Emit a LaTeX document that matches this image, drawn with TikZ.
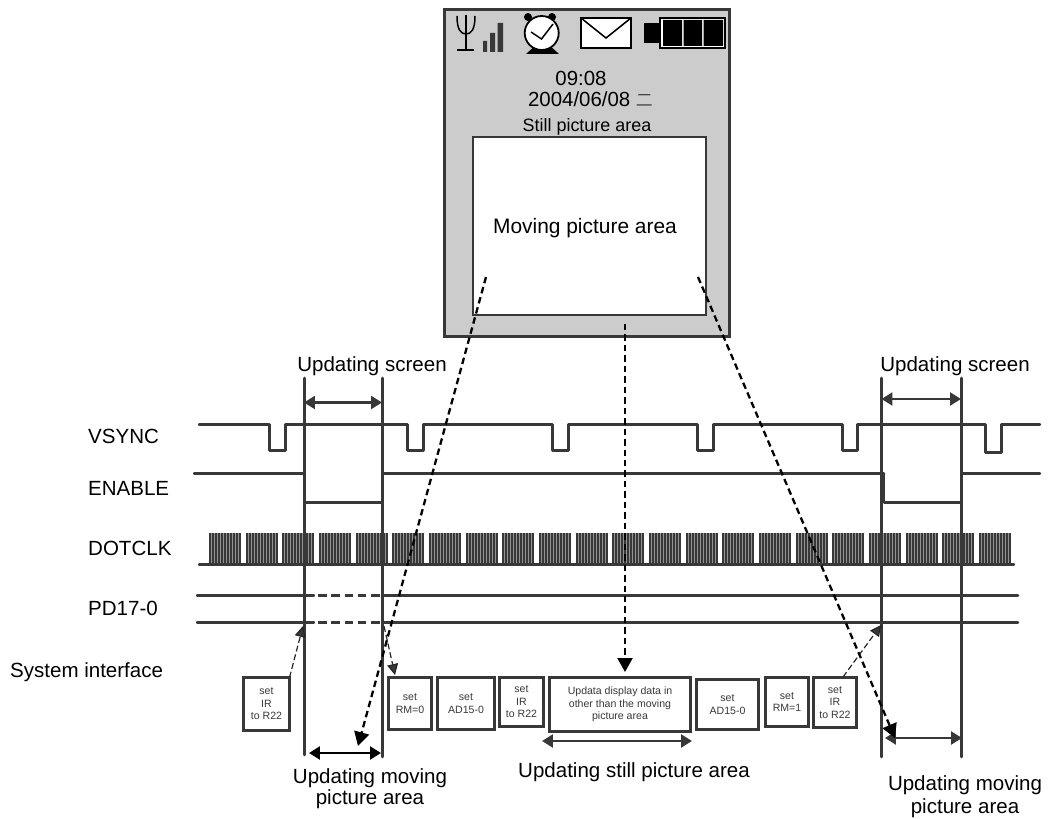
\documentclass[tikz,border=0pt]{standalone}
\usepackage{fontspec}
\setmainfont{Liberation Sans}
\newfontfamily\cjk{Noto Sans CJK SC Light}
\usetikzlibrary{arrows.meta}
\definecolor{ink}{HTML}{383838}
\definecolor{panel}{HTML}{CCCCCC}
\newcommand{\fsz}[1]{\fontsize{#1}{#1}\selectfont}
\tikzset{
  sig/.style={draw=ink,line width=2.4pt,line cap=round,line join=round},
  guide/.style={draw=ink,line width=2.6pt,line cap=round},
  gap/.style={draw=ink,line width=2.4pt,dash pattern=on 8.7pt off 4.6pt},
  lab/.style={font=\fsz{20.6},inner sep=0pt,align=center},
  siglab/.style={font=\fsz{20.6},inner sep=0pt,anchor=west},
  regbox/.style={draw=ink,line width=2.5pt,fill=white,inner sep=0pt,outer sep=0pt,font=\fsz{10.6},align=center,text=ink},
  thinptr/.style={draw=black!85,line width=1.2pt,dash pattern=on 6pt off 3pt,-{Triangle[length=11pt,width=11pt,fill=ink]}},
  mapptr/.style={draw=black,line width=2.3pt,dash pattern=on 6.5pt off 4pt,-{Triangle[length=14pt,width=15pt,fill=black]}},
  span/.style={draw=ink,line width=2.4pt,{Triangle[length=11pt,width=13pt]}-{Triangle[length=11pt,width=13pt]}},
}
\newcommand{\regnode}[6]{\node[regbox,minimum width=#4bp-#2bp,minimum height=#5bp-#3bp,anchor=north west] (#1) at (#2,#3) {#6};}
\begin{document}
\begin{tikzpicture}[x=1bp,y=-1bp]
\useasboundingbox (0,0) rectangle (1048,819);
% phone
\node[draw=ink,line width=2.1pt,fill=panel,minimum width=285bp,minimum height=327bp,anchor=north west,inner sep=0pt,outer sep=0pt] (phone) at (444.5,9.5) {};
\node[draw=ink,line width=2.2pt,fill=white,minimum width=233bp,minimum height=178bp,anchor=north west,inner sep=0pt,outer sep=0pt] (movarea) at (473,137) {};
\node[font=\fsz{21},inner sep=0pt] (movtxt) at (585,228) {Moving picture area};
\node[font=\fsz{20.5},inner sep=0pt] (clock) at (581,78) {09:08};
\node[font=\fsz{20.5},inner sep=0pt] (date) at (590.5,99) {2004/06/08 {\cjk\fontsize{17}{17}\selectfont 二}};
\node[font=\fsz{18},inner sep=0pt] (still) at (587,127) {Still picture area};
% antenna
\draw[black,line width=1.5pt] (457,16) .. controls (457,30) and (461,34) .. (466,34) .. controls (471,34) and (475,30) .. (475,16);
\draw[black,line width=1.5pt] (466,15) -- (466,50) (457,50) -- (474,50);
\fill[ink] (483,41) rectangle (487,52) (490,33) rectangle (495,52) (497.5,23) rectangle (503,52);
% alarm clock
\fill[black] (528,17) circle (4) (552,17) circle (4);
\fill[black] (537,44) -- (548,44) -- (559,54) -- (526,54) -- cycle;
\draw[black,line width=1.8pt,fill=white] (541.7,33) circle (17);
\draw[black,line width=1.5pt] (531,32) -- (541.5,39) -- (553,24);
% envelope
\draw[black,line width=1.8pt,fill=white] (581,18) rectangle (631,48);
\draw[black,line width=1.5pt] (581,18) -- (606,38) -- (631,18);
% battery
\fill[black] (644,23) rectangle (660,43.5);
\draw[black,line width=1.6pt,fill=white] (660,18) rectangle (725,48);
\fill[black] (663,20) rectangle (682,46) (683.5,20) rectangle (702,46) (703.5,20) rectangle (723,46);
% signal labels
\node[siglab] (lv) at (88,436) {VSYNC};
\node[siglab] (le) at (88,488) {ENABLE};
\node[siglab] (ld) at (88,548) {DOTCLK};
\node[siglab] (lp) at (88,608) {PD17-0};
\node[siglab] (ls) at (10,672) {System interface};
% VSYNC
\draw[sig] (199,424.5) -- (269.5,424.5) -- (269.5,450.5) -- (285.5,450.5) -- (285.5,424.5)
  -- (407.5,424.5) -- (407.5,450.5) -- (423.5,450.5) -- (423.5,424.5)
  -- (552.5,424.5) -- (552.5,450.5) -- (568.5,450.5) -- (568.5,424.5)
  -- (697.5,424.5) -- (697.5,450.5) -- (713.5,450.5) -- (713.5,424.5)
  -- (842.5,424.5) -- (842.5,450.5) -- (857.5,450.5) -- (857.5,424.5)
  -- (985.5,424.5) -- (985.5,452.5) -- (1001.5,452.5) -- (1001.5,424.5) -- (1040,424.5);
% ENABLE
\draw[sig] (194,473.5) -- (303,473.5) (304.5,502.5) -- (382.5,502.5) (382.5,473.5) -- (884,473.5)
  (884,473.5) -- (884,502.5) -- (961.5,502.5) (961.5,473.5) -- (1040,473.5);
% DOTCLK
\foreach \g in {0,...,21}{
  \pgfmathsetmacro{\gx}{round(209+36.667*\g)}
  \fill[ink!55] (\gx,533) rectangle ++(32,31);
  \foreach \b in {0,...,10}{
    \fill[ink] ({\gx+\b*3+0.1},533) rectangle ++(1.8,31);
  }
}
\draw[sig] (199,564.5) -- (1014,564.5);
% PD17-0
\draw[sig] (197,595.5) -- (314,595.5) (382,595.5) -- (1018,595.5);
\draw[sig] (197,622.5) -- (314,622.5) (382,622.5) -- (1018,622.5);
\foreach \yy in {595.5,622.5}{
  \draw[gap] (318,\yy) -- (382,\yy);
  \draw[gap] (884,\yy) -- (961,\yy);
}
% guides
\coordinate (g1t) at (304.5,378); \coordinate (g1b) at (304.5,755);
\coordinate (g2t) at (382.5,378); \coordinate (g2b) at (382.5,757);
\coordinate (g3t) at (881.5,378); \coordinate (g3b) at (881.5,757);
\coordinate (g4t) at (961.5,378); \coordinate (g4b) at (961.5,757);
\draw[guide] (g1t) -- (g1b);
\draw[guide] (g2t) -- (g2b);
\draw[guide] (g3t) -- (g3b);
\draw[guide] (g4t) -- (g4b);
% register boxes
\regnode{b1}{243.5}{677.5}{289.5}{730.5}{set\\[2pt]IR\\[2pt]to R22}
\regnode{b2}{388.5}{677.5}{431.5}{729.5}{set\\[2pt]RM=0}
\regnode{b3}{437.5}{677.5}{494.5}{729.5}{set\\[2pt]AD15-0}
\regnode{b4}{499.5}{677.5}{543.5}{726.5}{set\\[2pt]IR\\[2pt]to R22}
\regnode{b5}{549.5}{677.5}{690.5}{731.5}{Updata display data in\\[2pt]other than the moving\\[2pt]picture area}
\regnode{b6}{696.5}{679.5}{758.5}{729.5}{set\\[2pt]AD15-0}
\regnode{b7}{765.5}{677.5}{808.5}{726.5}{set\\[2pt]RM=1}
\regnode{b8}{813.5}{677.5}{856.5}{727.5}{set\\[2pt]IR\\[2pt]to R22}
% span arrows
\coordinate (s1a) at (304,402.5); \coordinate (s1b) at (382,402.5);
\coordinate (s2a) at (881.5,399); \coordinate (s2b) at (961,399);
\coordinate (s3a) at (309,753); \coordinate (s3b) at (381,753);
\coordinate (s4a) at (542,741); \coordinate (s4b) at (692,741);
\coordinate (s5a) at (885,738); \coordinate (s5b) at (962,738);
\draw[span] (s1a) -- (s1b);
\draw[span] (s2a) -- (s2b);
\draw[span,black] (s3a) -- (s3b);
\draw[span] (s4a) -- (s4b);
\draw[span] (s5a) -- (s5b);
% thin pointers
\coordinate (p1) at (303,626); \coordinate (p2) at (384,626); \coordinate (p3) at (881,625);
\draw[thinptr] (b1.north east) -- (p1);
\draw[thinptr] (p2) -- (395,675);
\draw[thinptr] (843,677) -- (p3);
% mapping arrows
\coordinate (m1) at (486,277); \coordinate (m1e) at (358,746);
\coordinate (m2) at (625,324); \coordinate (m2e) at (625,672);
\coordinate (m3) at (698,277); \coordinate (m3e) at (895,738);
\draw[mapptr] (m1) -- (m1e);
\draw[mapptr] (m2) -- (m2e);
\draw[mapptr] (m3) -- (m3e);
% labels
\node[lab] (t1) at (372,366) {Updating screen};
\node[lab] (t2) at (955,366) {Updating screen};
\node[lab] (t3) at (370,778) {Updating moving};
\node[lab] (t3b) at (370,799) {picture area};
\node[lab] (t4) at (634,772) {Updating still picture area};
\node[lab] (t5) at (965,785) {Updating moving};
\node[lab] (t5b) at (965,808) {picture area};
\end{tikzpicture}
\end{document}
